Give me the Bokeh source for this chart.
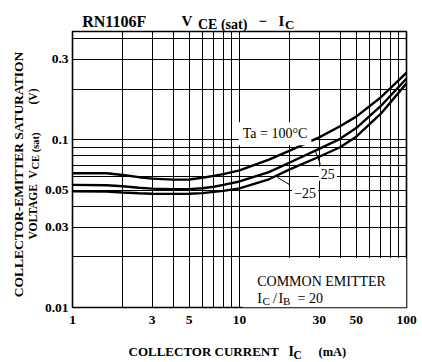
from math import pi
from bokeh.plotting import figure
from bokeh.models import Label, FixedTicker, CustomJSTickFormatter, BoxAnnotation, Range1d
from bokeh.core.properties import value
from bokeh.embed import file_html
from bokeh.resources import INLINE

# ---- data ----
ic_ma = [1, 1.6, 2, 2.5, 3, 4, 5, 6, 7, 8, 10, 15, 20, 30, 40, 50, 70, 100]
vce_ta100 = [0.063, 0.063, 0.0615, 0.0597, 0.0585, 0.0577, 0.0578, 0.0592, 0.0608, 0.0622,
             0.0655, 0.076, 0.086, 0.103, 0.12, 0.137, 0.178, 0.25]
vce_ta25 = [0.0537, 0.0535, 0.0527, 0.0516, 0.051, 0.0506, 0.0507, 0.0513, 0.0524, 0.0537,
            0.0563, 0.064, 0.073, 0.088, 0.101, 0.117, 0.158, 0.231]
vce_tam25 = [0.0492, 0.049, 0.0484, 0.0479, 0.0476, 0.0475, 0.0476, 0.048, 0.0488, 0.0495,
             0.0512, 0.058, 0.0665, 0.079, 0.09, 0.104, 0.142, 0.216]

x_ticks = [1, 3, 5, 10, 30, 50, 100]
y_ticks = [0.01, 0.03, 0.05, 0.1, 0.3]
x_grid = [1, 2, 3, 4, 5, 6, 7, 8, 9, 10, 20, 30, 40, 50, 60, 70, 80, 90, 100]
y_grid = [0.01, 0.02, 0.03, 0.04, 0.05, 0.06, 0.07, 0.08, 0.09, 0.1, 0.2, 0.3, 0.4]

# leader lines for the curve labels (data units)
leader_25_ic = [28.5, 30.5]
leader_25_v = [0.0852, 0.0712]
leader_m25_ic = [16.8, 19.9]
leader_m25_v = [0.0597, 0.0540]

FONT = "Liberation Serif"
W, H = 418, 360
BL, BR, BT, BB = 72, 12, 31, 53
X0, X1 = 1, 100
Y0, Y1 = 0.01, 0.44

p = figure(width=W, height=H, x_axis_type="log", y_axis_type="log",
           x_range=Range1d(X0, X1), y_range=Range1d(Y0, Y1),
           output_backend="svg", toolbar_location=None, title_location=None,
           min_border_left=BL, min_border_right=BR, min_border_top=BT, min_border_bottom=BB)

p.background_fill_color = "white"
p.border_fill_color = "white"
p.outline_line_color = "black"
p.outline_line_width = 1.6

p.xaxis.ticker = FixedTicker(ticks=x_ticks)
p.yaxis.ticker = FixedTicker(ticks=y_ticks)
p.xaxis.formatter = CustomJSTickFormatter(code="return String(tick)")
p.yaxis.formatter = CustomJSTickFormatter(code="return String(tick)")
for ax in (p.xaxis[0], p.yaxis[0]):
    ax.axis_line_color = None
    ax.major_tick_line_color = None
    ax.minor_tick_line_color = None
    ax.major_tick_out = 0
    ax.major_tick_in = 0
    ax.minor_tick_out = 0
    ax.minor_tick_in = 0
    ax.major_label_text_font = FONT
    ax.major_label_text_font_style = "bold"
    ax.major_label_text_font_size = "13.5px"
    ax.major_label_text_color = "black"
p.xaxis.major_label_standoff = 8
p.yaxis.major_label_standoff = 4

p.xgrid.ticker = FixedTicker(ticks=x_grid)
p.ygrid.ticker = FixedTicker(ticks=y_grid)
for g in (p.xgrid[0], p.ygrid[0]):
    g.grid_line_color = "black"
    g.grid_line_alpha = 1
    g.grid_line_width = 1
    g.minor_grid_line_color = None

# white area behind the COMMON EMITTER note
p.add_layout(BoxAnnotation(left=10.4, right=100, bottom=0.01, top=0.0197,
                           fill_color="white", fill_alpha=1, line_color=None))

for ys in (vce_ta100, vce_ta25, vce_tam25):
    p.line(ic_ma, ys, line_color="black", line_width=2.4)
p.line(leader_25_ic, leader_25_v, line_color="black", line_width=1)
p.line(leader_m25_ic, leader_m25_v, line_color="black", line_width=1)

FL = BL          # frame left in page px
FB = H - BB      # frame bottom in page px


def put(text, px, py, size, bold=True, bg=None, pad=0):
    """Label inside the plot frame (positions in page pixels)."""
    kw = {}
    if bg is not None:
        kw = dict(background_fill_color=bg, background_fill_alpha=1, padding=pad)
    p.add_layout(Label(text=text, x=px - FL, y=FB - py, x_units="screen", y_units="screen",
                       text_align="left", text_baseline="alphabetic",
                       text_font=FONT, text_font_size=f"{size}px",
                       text_font_style="bold" if bold else "normal",
                       text_color="black", **kw))


def put_out(text, px, py, size, bold=True, angle=0.0, align="left"):
    """Text outside the frame: anchored at the frame's bottom-left corner, offset in px."""
    p.text(x=[X0], y=[Y0], text=[text], x_offset=px - FL, y_offset=py - FB,
           angle=angle, text_align=align, text_baseline="alphabetic",
           text_font=value(FONT), text_font_size=f"{size}px",
           text_font_style="bold" if bold else "normal", text_color="black",
           level="overlay")


# title
put_out("RN1106F", 81.7, 20.7, 16)
put_out("V", 181, 20.7, 15)
put_out("CE (sat)", 197.5, 23.8, 14)
put_out("\u2212", 258, 20.7, 15)
put_out("I", 278, 20.7, 15)
put_out("C", 284.5, 24, 13)

# x axis title
put_out("COLLECTOR CURRENT", 128, 351, 13)
put_out("I", 288, 351, 14)
put_out("C", 293, 354, 11.5)
put_out("(mA)", 318, 351, 12.5)

# y axis title (rotated)
put_out("COLLECTOR-EMITTER SATURATION", 18, 174, 13.5, angle=pi / 2, align="center")
put_out("VOLTAGE", 32, 239, 11.5, angle=pi / 2)
put_out("V", 32, 178, 11.5, angle=pi / 2)
put_out("CE (sat)", 34.5, 169, 10.5, angle=pi / 2)
put_out("(V)", 32, 104, 11.5, angle=pi / 2)

# in-plot notes
put("Ta = 100\u00b0C", 238.3, 133.3, 14, bold=False, bg="white", pad=4)
put("25", 318.3, 173.3, 14, bold=False, bg="white", pad=2)
put("\u221225", 291.7, 192.7, 14, bold=False, bg="white", pad=2)
put("COMMON EMITTER", 256.7, 280.7, 14, bold=False)
put("I", 256.7, 298, 14, bold=False)
put("C", 262, 300.5, 11, bold=False)
put("/", 272.5, 298, 14, bold=False)
put("I", 278, 298, 14, bold=False)
put("B", 282.5, 300.5, 11, bold=False)
put("= 20", 297, 298, 14, bold=False)

open("out.html", "w").write(file_html(p, INLINE))
